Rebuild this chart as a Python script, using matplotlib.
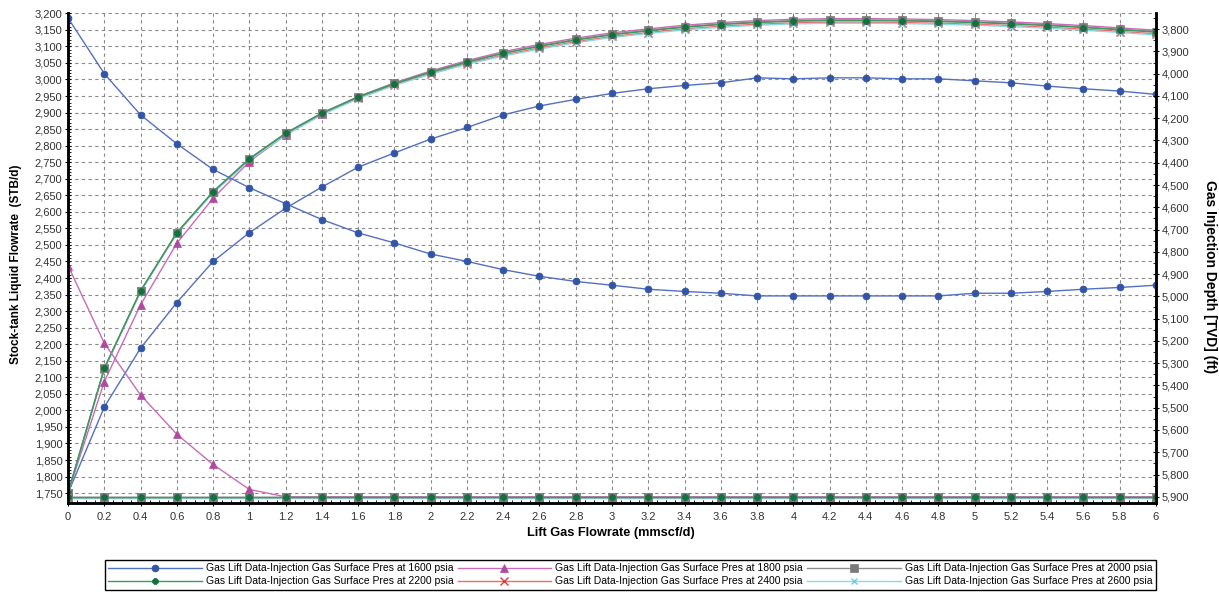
import matplotlib
matplotlib.use("Agg")
import matplotlib.pyplot as plt
from matplotlib.ticker import MultipleLocator, FuncFormatter

plt.rcParams["font.family"] = ["Liberation Sans", "DejaVu Sans"]

### donnees ###
gas_rate = [0, 0.2, 0.4, 0.6, 0.8, 1.0, 1.2, 1.4, 1.6, 1.8, 2.0, 2.2, 2.4, 2.6, 2.8, 3.0,
            3.2, 3.4, 3.6, 3.8, 4.0, 4.2, 4.4, 4.6, 4.8, 5.0, 5.2, 5.4, 5.6, 5.8, 6.0]

# liquid rate (STB/d), left axis
rate_1600 = [1750, 2010, 2188, 2326, 2450, 2537, 2611, 2675, 2735, 2778, 2820, 2855, 2893, 2920, 2940, 2958,
             2972, 2982, 2990, 3005, 3002, 3005, 3005, 3002, 3002, 2996, 2990, 2980, 2972, 2965, 2955]
rate_1800 = [1750, 2087, 2319, 2505, 2641, 2752, 2832, 2897, 2948, 2990, 3026, 3057, 3084, 3106, 3125, 3141,
             3153, 3164, 3172, 3178, 3182, 3184, 3184, 3183, 3181, 3178, 3174, 3169, 3163, 3156, 3149]
rate_2000 = [1750, 2127, 2361, 2537, 2661, 2761, 2838, 2899, 2948, 2989, 3023, 3054, 3080, 3102, 3121, 3137,
             3149, 3160, 3168, 3174, 3178, 3180, 3180, 3179, 3177, 3174, 3170, 3165, 3159, 3152, 3145]
rate_2200 = [1750, 2127, 2361, 2537, 2661, 2760, 2837, 2898, 2947, 2987, 3022, 3052, 3079, 3100, 3119, 3135,
             3147, 3158, 3166, 3172, 3176, 3178, 3178, 3177, 3175, 3172, 3168, 3163, 3157, 3150, 3143]
rate_2400 = [1750, 2126, 2360, 2536, 2659, 2758, 2834, 2895, 2944, 2984, 3018, 3048, 3074, 3095, 3114, 3130,
             3142, 3153, 3161, 3167, 3171, 3173, 3173, 3172, 3170, 3167, 3163, 3158, 3152, 3145, 3138]
rate_2600 = [1750, 2124, 2358, 2534, 2657, 2756, 2832, 2893, 2942, 2982, 3016, 3046, 3071, 3092, 3111, 3127,
             3139, 3150, 3158, 3164, 3168, 3170, 3170, 3169, 3167, 3164, 3160, 3155, 3149, 3142, 3135]

# injection depth (ft TVD), right axis
depth_1600 = [3750, 4000, 4185, 4315, 4430, 4512, 4584, 4655, 4715, 4760, 4810, 4843, 4880, 4910, 4933, 4950,
              4968, 4978, 4986, 4998, 4998, 4998, 4998, 4998, 4998, 4986, 4986, 4978, 4968, 4960, 4950]
depth_1800 = [4862, 5210, 5443, 5619, 5755, 5867, 5900, 5900, 5900, 5900, 5900, 5900, 5900, 5900, 5900, 5900,
              5900, 5900, 5900, 5900, 5900, 5900, 5900, 5900, 5900, 5900, 5900, 5900, 5900, 5900, 5900]
depth_2000 = [5900, 5900, 5900, 5900, 5900, 5900, 5900, 5900, 5900, 5900, 5900, 5900, 5900, 5900, 5900, 5900,
              5900, 5900, 5900, 5900, 5900, 5900, 5900, 5900, 5900, 5900, 5900, 5900, 5900, 5900, 5900]
depth_2200 = [5900, 5900, 5900, 5900, 5900, 5900, 5900, 5900, 5900, 5900, 5900, 5900, 5900, 5900, 5900, 5900,
              5900, 5900, 5900, 5900, 5900, 5900, 5900, 5900, 5900, 5900, 5900, 5900, 5900, 5900, 5900]
depth_2400 = [5900, 5900, 5900, 5900, 5900, 5900, 5900, 5900, 5900, 5900, 5900, 5900, 5900, 5900, 5900, 5900,
              5900, 5900, 5900, 5900, 5900, 5900, 5900, 5900, 5900, 5900, 5900, 5900, 5900, 5900, 5900]
depth_2600 = [5907, 5907, 5907, 5907, 5907, 5907, 5907, 5907, 5907, 5907, 5907, 5907, 5907, 5907, 5907, 5907,
              5907, 5907, 5907, 5907, 5907, 5907, 5907, 5907, 5907, 5907, 5907, 5907, 5907, 5907, 5907]

pressures = [1600, 1800, 2000, 2200, 2400, 2600]
rates = [rate_1600, rate_1800, rate_2000, rate_2200, rate_2400, rate_2600]
depths = [depth_1600, depth_1800, depth_2000, depth_2200, depth_2400, depth_2600]

### styles ###
line_colors = ["#5470c0", "#c86cba", "#8c8c8c", "#3c9a5c", "#f06a6a", "#8ad8e6"]
marker_colors = ["#3355a5", "#b04aa0", "#7a7a7a", "#157040", "#e03838", "#6ccfe0"]
markers = ["o", "^", "s", "8", "x", "x"]
msizes = [5, 6, 5.5, 5, 6, 5]
draw_order = [0, 1, 4, 5, 2, 3]

fig = plt.figure(figsize=(12.19, 5.92), dpi=100)
ax = fig.add_axes([0.0558, 0.1503, 0.8925, 0.8272])
ax2 = ax.twinx()

handles = {}
for i in draw_order:
    kw = dict(color=line_colors[i], lw=1.0, marker=markers[i], ms=msizes[i],
              mfc=marker_colors[i], mec=marker_colors[i], mew=1.0 if markers[i] == "x" else 0.5)
    h, = ax.plot(gas_rate, rates[i], **kw)
    ax2.plot(gas_rate, depths[i], **kw)
    handles[i] = h

### axes ###
ax.set_xlim(0, 6)
ax.set_ylim(1720, 3200)
ax2.set_ylim(5928, 3729)

ax.xaxis.set_major_locator(MultipleLocator(0.2))
ax.xaxis.set_minor_locator(MultipleLocator(0.05))
ax.yaxis.set_major_locator(MultipleLocator(50))
ax.yaxis.set_minor_locator(MultipleLocator(10))
ax2.yaxis.set_major_locator(MultipleLocator(100))
ax2.yaxis.set_minor_locator(MultipleLocator(50))

ax.xaxis.set_major_formatter(FuncFormatter(lambda v, p: f"{v:g}"))
ax.yaxis.set_major_formatter(FuncFormatter(lambda v, p: f"{v:,.0f}"))
ax2.yaxis.set_major_formatter(FuncFormatter(lambda v, p: f"{v:,.0f}"))

ax.grid(True, which="major", color="#8a8a8a", linestyle=(0, (3, 3)), lw=0.8)
ax.set_axisbelow(True)

for a in (ax, ax2):
    a.spines["top"].set_visible(False)
    for s in ("left", "right", "bottom"):
        a.spines[s].set_linewidth(1.8)
        a.spines[s].set_color("black")
    a.tick_params(which="major", direction="inout", length=5, width=0.8, labelsize=8,
                  labelcolor="#333333", pad=1.5)
    a.tick_params(which="minor", direction="in", length=2, width=0.6)

ax.tick_params(axis="x", pad=4)

fig.text(0.0135, 0.554, "Stock-tank Liquid Flowrate  (STB/d)", rotation=90, ha="center", va="center",
         fontsize=8.5, fontweight="bold")
fig.text(0.993, 0.532, "Gas Injection Depth [TVD] (ft)", rotation=270, ha="center", va="center",
         fontsize=10, fontweight="bold")
fig.text(0.501, 0.100, "Lift Gas Flowrate (mmscf/d)", ha="center", va="center",
         fontsize=9.2, fontweight="bold")

### legende ###
order = [0, 3, 1, 4, 2, 5]
leg = fig.legend([handles[i] for i in order],
                 [f"Gas Lift Data-Injection Gas Surface Pres at {pressures[i]} psia" for i in order],
                 loc="center", bbox_to_anchor=(0.517, 0.029), ncol=3, fontsize=7.5,
                 handlelength=9.0, handletextpad=0.4, columnspacing=0.4, labelspacing=0.3,
                 borderpad=0.3, fancybox=False, edgecolor="black", framealpha=1, shadow=False)
leg.get_frame().set_linewidth(1.0)

fig.savefig("out.png", dpi=100)
